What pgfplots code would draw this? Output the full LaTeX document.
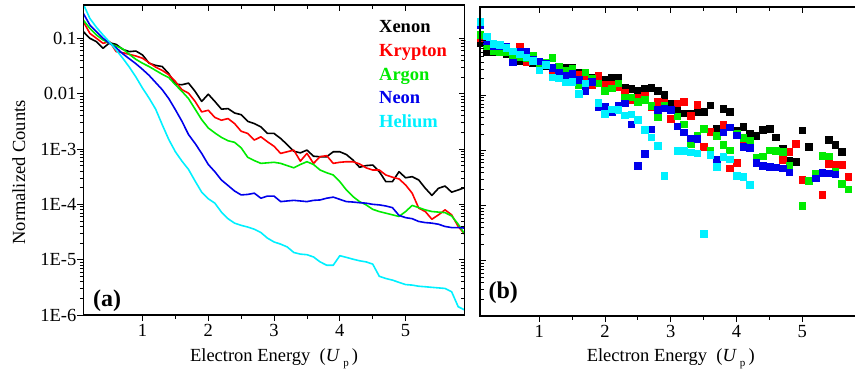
\documentclass[border=0pt]{standalone}
\usepackage{fontspec}
\setmainfont{Liberation Serif}
\usepackage{pgfplots}
\pgfplotsset{compat=1.18}
\definecolor{cXe}{RGB}{0,0,0}
\definecolor{cKr}{RGB}{255,0,0}
\definecolor{cAr}{RGB}{0,235,0}
\definecolor{cNe}{RGB}{0,0,235}
\definecolor{cHe}{RGB}{0,240,255}
\newcommand{\myfs}{\fontsize{18.5}{22}\selectfont}
\begin{document}
\begin{tikzpicture}
\useasboundingbox (0,0) rectangle (855pt,373pt);
% ---------- left panel ----------
\begin{axis}[scale only axis, width=381.5pt, height=310pt,
  at={(83.3pt,58pt)}, anchor=south west,
  xmin=0.1, xmax=5.9, ymode=log, ymin=1e-6, ymax=0.4,
  xtick={1,2,3,4,5}, minor x tick num=1,
  ytick={1e-6,1e-5,1e-4,1e-3,1e-2,1e-1},
  major tick length=6pt, minor tick length=3.5pt,
  tick style={line width=0.8pt, black},
  axis line style={line width=1.3pt},
  tick label style={font=\myfs},
  yticklabel style={xshift=2.5pt},
  tick align=outside, xtick pos=left, ytick pos=left,
  xticklabels={1,2,3,4,5},
  yticklabels={1E-6,1E-5,1E-4,1E-3,0.01\hspace{3pt},0.1\hspace{3pt}},
  xlabel={Electron Energy\ \ (\textit{U}\,\raisebox{-0.6ex}{\fontsize{11}{11}\selectfont p}\,)},
  xlabel style={at={(rel axis cs:0.5,-0.1506)}, anchor=base, inner sep=0pt, font=\myfs},
  ylabel={Normalized Counts},
  ylabel style={at={(rel axis cs:-0.1528,0.46)}, anchor=base, inner sep=0pt, font=\myfs}]
\addplot[no markers, line width=1.6pt, line join=round, cXe] coordinates {(0.1,1.32e-1)(0.2,1.00e-1)(0.3,8.71e-2)(0.4,6.61e-2)(0.5,8.32e-2)(0.6,7.76e-2)(0.7,6.31e-2)(0.8,5.75e-2)(0.9,5.89e-2)(1.0,5.01e-2)(1.1,3.55e-2)(1.2,3.24e-2)(1.3,3.09e-2)(1.4,2.29e-2)(1.5,1.48e-2)(1.6,1.45e-2)(1.7,1.55e-2)(1.8,1.10e-2)(1.9,7.24e-3)(2.0,9.77e-3)(2.1,7.24e-3)(2.2,5.25e-3)(2.3,5.37e-3)(2.4,4.47e-3)(2.5,4.17e-3)(2.6,3.16e-3)(2.7,2.88e-3)(2.8,2.51e-3)(2.9,1.91e-3)(3.0,1.91e-3)(3.1,1.55e-3)(3.2,1.20e-3)(3.3,9.12e-4)(3.4,8.51e-4)(3.5,9.55e-4)(3.6,7.41e-4)(3.7,7.24e-4)(3.8,7.24e-4)(3.9,8.91e-4)(4.0,8.91e-4)(4.1,7.94e-4)(4.2,6.31e-4)(4.3,4.68e-4)(4.4,5.01e-4)(4.5,5.13e-4)(4.6,3.89e-4)(4.7,2.57e-4)(4.8,2.57e-4)(4.9,3.89e-4)(5.0,3.02e-4)(5.1,3.16e-4)(5.2,2.75e-4)(5.3,1.95e-4)(5.4,1.45e-4)(5.5,1.95e-4)(5.6,2.14e-4)(5.7,1.66e-4)(5.8,1.82e-4)(5.9,2.00e-4)};
\addplot[no markers, line width=1.6pt, line join=round, cKr] coordinates {(0.1,2.00e-1)(0.2,1.23e-1)(0.3,1.00e-1)(0.4,8.13e-2)(0.5,8.71e-2)(0.6,5.75e-2)(0.7,5.50e-2)(0.8,5.13e-2)(0.9,4.79e-2)(1.0,4.37e-2)(1.1,3.63e-2)(1.2,3.02e-2)(1.3,2.63e-2)(1.4,2.19e-2)(1.5,1.66e-2)(1.6,1.18e-2)(1.7,1.02e-2)(1.8,7.24e-3)(1.9,4.68e-3)(2.0,5.01e-3)(2.1,3.72e-3)(2.2,3.31e-3)(2.3,3.55e-3)(2.4,2.88e-3)(2.5,2.09e-3)(2.6,1.91e-3)(2.7,1.45e-3)(2.8,1.66e-3)(2.9,1.35e-3)(3.0,1.12e-3)(3.1,8.32e-4)(3.2,8.91e-4)(3.3,9.55e-4)(3.4,6.03e-4)(3.5,8.32e-4)(3.6,5.50e-4)(3.7,7.24e-4)(3.8,7.59e-4)(3.9,5.50e-4)(4.0,5.75e-4)(4.1,5.89e-4)(4.2,5.89e-4)(4.3,5.37e-4)(4.4,4.57e-4)(4.5,4.17e-4)(4.6,4.17e-4)(4.7,3.39e-4)(4.8,3.09e-4)(4.9,2.88e-4)(5.0,2.24e-4)(5.1,1.59e-4)(5.2,8.51e-5)(5.3,7.41e-5)(5.4,5.37e-5)(5.5,6.46e-5)(5.6,7.94e-5)(5.7,6.46e-5)(5.8,3.98e-5)(5.9,2.88e-5)};
\addplot[no markers, line width=1.6pt, line join=round, cAr] coordinates {(0.1,2.14e-1)(0.2,1.51e-1)(0.3,1.15e-1)(0.4,9.33e-2)(0.5,8.13e-2)(0.6,7.24e-2)(0.7,6.46e-2)(0.8,5.13e-2)(0.9,4.17e-2)(1.0,3.55e-2)(1.1,3.09e-2)(1.2,2.63e-2)(1.3,2.24e-2)(1.4,1.95e-2)(1.5,1.45e-2)(1.6,1.10e-2)(1.7,8.13e-3)(1.8,5.25e-3)(1.9,3.39e-3)(2.0,2.40e-3)(2.1,1.95e-3)(2.2,1.62e-3)(2.3,1.41e-3)(2.4,1.32e-3)(2.5,1.05e-3)(2.6,7.08e-4)(2.7,6.17e-4)(2.8,5.50e-4)(2.9,5.62e-4)(3.0,5.75e-4)(3.1,5.50e-4)(3.2,5.01e-4)(3.3,4.57e-4)(3.4,5.25e-4)(3.5,5.89e-4)(3.6,5.25e-4)(3.7,4.17e-4)(3.8,3.72e-4)(3.9,3.39e-4)(4.0,2.57e-4)(4.1,1.82e-4)(4.2,1.38e-4)(4.3,1.12e-4)(4.4,9.77e-5)(4.5,8.13e-5)(4.6,7.41e-5)(4.7,6.92e-5)(4.8,6.46e-5)(4.9,6.03e-5)(5.0,7.41e-5)(5.1,9.55e-5)(5.2,8.71e-5)(5.3,7.94e-5)(5.4,7.41e-5)(5.5,7.24e-5)(5.6,7.08e-5)(5.7,6.17e-5)(5.8,4.37e-5)(5.9,2.88e-5)};
\addplot[no markers, line width=1.6pt, line join=round, cNe] coordinates {(0.1,2.82e-1)(0.2,1.74e-1)(0.3,1.32e-1)(0.4,1.00e-1)(0.5,8.13e-2)(0.6,6.76e-2)(0.7,5.25e-2)(0.8,4.27e-2)(0.9,3.47e-2)(1.0,2.75e-2)(1.1,2.14e-2)(1.2,1.59e-2)(1.3,1.18e-2)(1.4,8.13e-3)(1.5,5.13e-3)(1.6,3.16e-3)(1.7,1.82e-3)(1.8,1.26e-3)(1.9,8.32e-4)(2.0,5.25e-4)(2.1,3.89e-4)(2.2,2.75e-4)(2.3,2.19e-4)(2.4,1.74e-4)(2.5,1.48e-4)(2.6,1.51e-4)(2.7,1.59e-4)(2.8,1.29e-4)(2.9,1.41e-4)(3.0,1.41e-4)(3.1,1.12e-4)(3.2,1.15e-4)(3.3,1.18e-4)(3.4,1.15e-4)(3.5,1.12e-4)(3.6,1.18e-4)(3.7,1.20e-4)(3.8,1.29e-4)(3.9,1.35e-4)(4.0,1.23e-4)(4.1,1.12e-4)(4.2,1.10e-4)(4.3,1.07e-4)(4.4,1.05e-4)(4.5,1.00e-4)(4.6,9.77e-5)(4.7,9.33e-5)(4.8,8.71e-5)(4.9,6.31e-5)(5.0,5.75e-5)(5.1,5.50e-5)(5.2,4.90e-5)(5.3,4.68e-5)(5.4,4.57e-5)(5.5,4.37e-5)(5.6,3.98e-5)(5.7,3.80e-5)(5.8,3.80e-5)(5.9,3.72e-5)};
\addplot[no markers, line width=1.6pt, line join=round, cHe] coordinates {(0.1,4.17e-1)(0.2,2.29e-1)(0.3,1.58e-1)(0.4,1.15e-1)(0.5,8.51e-2)(0.6,6.17e-2)(0.7,4.37e-2)(0.8,3.02e-2)(0.9,2.00e-2)(1.0,1.26e-2)(1.1,8.32e-3)(1.2,5.25e-3)(1.3,2.75e-3)(1.4,1.48e-3)(1.5,8.91e-4)(1.6,6.03e-4)(1.7,4.27e-4)(1.8,2.63e-4)(1.9,1.66e-4)(2.0,1.26e-4)(2.1,1.05e-4)(2.2,7.24e-5)(2.3,5.50e-5)(2.4,4.57e-5)(2.5,4.17e-5)(2.6,3.89e-5)(2.7,3.55e-5)(2.8,3.09e-5)(2.9,2.45e-5)(3.0,2.09e-5)(3.1,1.91e-5)(3.2,1.70e-5)(3.3,1.35e-5)(3.4,1.26e-5)(3.5,1.23e-5)(3.6,1.12e-5)(3.7,9.12e-6)(3.8,7.94e-6)(3.9,7.94e-6)(4.0,1.18e-5)(4.1,1.10e-5)(4.2,1.02e-5)(4.3,9.55e-6)(4.4,9.12e-6)(4.5,8.32e-6)(4.6,5.01e-6)(4.7,4.57e-6)(4.8,4.27e-6)(4.9,3.89e-6)(5.0,3.55e-6)(5.1,3.47e-6)(5.2,3.31e-6)(5.3,3.24e-6)(5.4,3.16e-6)(5.5,3.09e-6)(5.6,3.02e-6)(5.7,2.63e-6)(5.8,1.41e-6)(5.9,1.23e-6)};
\node[anchor=base west, inner sep=0pt, font=\bfseries\myfs, text=cXe] at (rel axis cs:0.775,0.911) {Xenon};
\node[anchor=base west, inner sep=0pt, font=\bfseries\myfs, text=cKr] at (rel axis cs:0.775,0.834) {Krypton};
\node[anchor=base west, inner sep=0pt, font=\bfseries\myfs, text=cAr] at (rel axis cs:0.775,0.758) {Argon};
\node[anchor=base west, inner sep=0pt, font=\bfseries\myfs, text=cNe] at (rel axis cs:0.775,0.681) {Neon};
\node[anchor=base west, inner sep=0pt, font=\bfseries\myfs, text=cHe] at (rel axis cs:0.775,0.605) {Helium};
\node[anchor=base west, inner sep=0pt, font=\bfseries\fontsize{24}{28}\selectfont] at (rel axis cs:0.025,0.027) {(a)};
\end{axis}
\begin{axis}[scale only axis, width=381.5pt, height=310pt,
  at={(83.3pt,58pt)}, anchor=south west,
  xmin=0.1, xmax=5.9, ymode=log, ymin=1e-6, ymax=0.4,
  xtick={1,2,3,4,5}, minor x tick num=1,
  ytick={1e-6,1e-5,1e-4,1e-3,1e-2,1e-1},
  major tick length=6pt, minor tick length=3.5pt,
  tick style={line width=0.8pt, black},
  axis line style={line width=1.3pt},
  tick align=inside, xtick pos=right, ytick pos=right,
  xticklabels={}, yticklabels={}]
\end{axis}
% ---------- right panel ----------
\begin{axis}[scale only axis, width=381.5pt, height=309pt,
  at={(480pt,57pt)}, anchor=south west,
  xmin=0.1, xmax=5.9, ymode=log, ymin=1e-6, ymax=0.4,
  xtick={1,2,3,4,5}, minor x tick num=1,
  ytick=\empty,
  major tick length=6pt, minor tick length=3.5pt,
  tick style={line width=0.8pt, black},
  axis line style={line width=1.3pt},
  tick label style={font=\myfs},
  tick align=outside, xtick pos=left,
  xticklabels={1,2,3,4,5},
  xlabel={Electron Energy\ \ (\textit{U}\,\raisebox{-0.6ex}{\fontsize{11}{11}\selectfont p}\,)},
  xlabel style={at={(rel axis cs:0.5,-0.148)}, anchor=base, inner sep=0pt, font=\myfs}]
\addplot[only marks, mark=square*, mark size=3.3pt, cXe] coordinates {(0.1,8.91e-2)(0.2,6.17e-2)(0.3,6.03e-2)(0.4,6.03e-2)(0.5,5.62e-2)(0.6,5.01e-2)(0.7,4.27e-2)(0.8,4.37e-2)(0.9,3.80e-2)(1.0,3.98e-2)(1.1,3.39e-2)(1.2,3.24e-2)(1.3,2.82e-2)(1.4,3.16e-2)(1.5,3.24e-2)(1.6,2.63e-2)(1.7,2.14e-2)(1.8,2.14e-2)(1.9,2.00e-2)(2.0,1.95e-2)(2.1,2.14e-2)(2.2,2.14e-2)(2.3,1.41e-2)(2.4,1.32e-2)(2.5,1.23e-2)(2.6,1.32e-2)(2.7,1.38e-2)(2.8,1.23e-2)(2.9,1.02e-2)(3.0,7.08e-3)(3.1,5.62e-3)(3.2,4.79e-3)(3.3,4.79e-3)(3.4,5.01e-3)(3.5,5.01e-3)(3.6,6.61e-3)(3.7,2.51e-3)(3.8,5.75e-3)(3.9,5.01e-3)(4.0,2.34e-3)(4.1,2.69e-3)(4.2,2.04e-3)(4.3,1.86e-3)(4.4,2.40e-3)(4.5,2.51e-3)(4.6,1.74e-3)(4.7,1.10e-3)(4.8,6.61e-4)(4.9,6.31e-4)(5.0,2.34e-3)(5.1,1.17e-3)(5.2,3.89e-4)(5.4,1.58e-3)(5.5,1.26e-3)(5.6,9.55e-4)};
\addplot[only marks, mark=square*, mark size=3.3pt, cKr] coordinates {(0.1,1.12e-1)(0.2,8.91e-2)(0.3,7.94e-2)(0.4,7.59e-2)(0.5,6.61e-2)(0.6,6.31e-2)(0.7,7.59e-2)(0.8,3.98e-2)(0.9,4.47e-2)(1.0,3.80e-2)(1.1,3.55e-2)(1.2,2.69e-2)(1.3,3.16e-2)(1.4,2.82e-2)(1.5,2.88e-2)(1.6,2.40e-2)(1.7,2.09e-2)(1.8,1.55e-2)(1.9,2.29e-2)(2.0,1.58e-2)(2.1,1.58e-2)(2.2,1.41e-2)(2.3,1.15e-2)(2.4,8.32e-3)(2.5,9.12e-3)(2.6,1.00e-2)(2.7,6.31e-3)(2.8,7.59e-3)(2.9,7.41e-3)(3.0,3.80e-3)(3.1,7.24e-3)(3.2,7.76e-3)(3.3,4.27e-3)(3.4,6.76e-3)(3.5,1.17e-3)(3.6,2.19e-3)(3.8,2.95e-3)(3.9,4.79e-4)(4.0,6.03e-4)(4.1,1.35e-3)(4.7,6.76e-4)(4.8,9.55e-4)(4.9,1.32e-3)(5.0,2.95e-4)(5.3,1.58e-4)(5.4,5.75e-4)(5.5,5.62e-4)(5.6,5.50e-4)(5.7,3.39e-4)};
\addplot[only marks, mark=square*, mark size=3.3pt, cAr] coordinates {(0.1,1.26e-1)(0.2,7.94e-2)(0.3,6.31e-2)(0.4,6.17e-2)(0.5,6.03e-2)(0.6,5.13e-2)(0.7,5.01e-2)(0.8,4.79e-2)(0.9,5.25e-2)(1.0,3.55e-2)(1.1,3.98e-2)(1.2,4.79e-2)(1.3,3.39e-2)(1.4,2.88e-2)(1.5,3.02e-2)(1.6,1.55e-2)(1.7,2.63e-2)(1.8,2.00e-2)(1.9,1.66e-2)(2.0,1.23e-2)(2.1,1.35e-2)(2.2,1.66e-2)(2.3,9.33e-3)(2.4,9.33e-3)(2.5,7.76e-3)(2.6,8.32e-3)(2.7,6.46e-3)(2.8,4.07e-3)(2.9,6.46e-3)(3.0,5.62e-3)(3.1,4.17e-3)(3.2,3.02e-3)(3.3,1.32e-3)(3.4,1.86e-3)(3.5,2.51e-3)(3.6,1.00e-3)(3.7,1.86e-3)(3.8,1.26e-3)(3.9,1.02e-3)(4.0,2.00e-3)(4.1,1.70e-3)(4.2,1.51e-3)(4.3,7.59e-4)(4.4,7.94e-4)(4.5,1.02e-3)(4.6,1.00e-3)(4.7,9.55e-4)(4.8,5.37e-4)(5.0,1.00e-4)(5.1,2.82e-4)(5.2,3.89e-4)(5.3,8.13e-4)(5.4,7.94e-4)(5.5,4.17e-4)(5.6,2.51e-4)(5.7,2.00e-4)};
\addplot[only marks, mark=square*, mark size=3.3pt, cNe] coordinates {(0.1,1.91e-1)(0.2,9.55e-2)(0.3,7.76e-2)(0.4,7.94e-2)(0.5,7.76e-2)(0.6,3.98e-2)(0.7,6.31e-2)(0.8,6.31e-2)(0.9,4.47e-2)(1.0,4.17e-2)(1.1,3.80e-2)(1.2,3.16e-2)(1.3,2.63e-2)(1.4,2.34e-2)(1.5,2.45e-2)(1.6,1.91e-2)(1.7,1.23e-2)(1.8,1.78e-2)(1.9,6.17e-3)(2.0,6.17e-3)(2.1,5.01e-3)(2.2,6.46e-3)(2.3,7.24e-3)(2.4,3.02e-3)(2.5,5.37e-4)(2.6,8.71e-4)(2.7,2.45e-3)(2.8,5.50e-3)(2.9,5.89e-3)(3.0,5.50e-3)(3.1,2.75e-3)(3.2,2.14e-3)(3.3,1.66e-3)(3.4,1.62e-3)(3.6,8.32e-4)(3.7,6.76e-4)(3.8,2.14e-3)(3.9,2.63e-3)(4.0,1.91e-3)(4.1,1.17e-3)(4.2,1.12e-3)(4.3,6.03e-4)(4.4,5.37e-4)(4.5,5.13e-4)(4.6,5.01e-4)(4.7,4.79e-4)(4.8,4.07e-4)(5.2,3.16e-4)(5.3,3.98e-4)(5.4,3.89e-4)(5.5,3.72e-4)};
\addplot[only marks, mark=square*, mark size=3.3pt, cHe] coordinates {(0.1,2.19e-1)(0.2,1.15e-1)(0.3,8.71e-2)(0.4,8.32e-2)(0.5,7.24e-2)(0.6,6.31e-2)(0.7,5.62e-2)(0.8,4.90e-2)(0.9,4.27e-2)(1.0,2.88e-2)(1.1,3.63e-2)(1.2,2.14e-2)(1.3,2.04e-2)(1.4,1.74e-2)(1.5,1.78e-2)(1.6,1.07e-2)(1.7,1.66e-2)(1.9,7.41e-3)(2.0,4.68e-3)(2.1,5.62e-3)(2.2,5.50e-3)(2.3,4.37e-3)(2.4,4.57e-3)(2.5,3.63e-3)(2.6,2.40e-3)(2.7,1.74e-3)(2.8,1.23e-3)(2.9,3.47e-4)(3.1,1.00e-3)(3.2,1.00e-3)(3.3,9.33e-4)(3.4,8.91e-4)(3.5,3.09e-5)(3.6,8.32e-4)(3.7,5.13e-4)(3.8,7.76e-4)(3.9,6.92e-4)(4.0,3.47e-4)(4.1,3.39e-4)(4.2,2.40e-4)};
\node[anchor=base west, inner sep=0pt, font=\bfseries\fontsize{24}{28}\selectfont] at (rel axis cs:0.022,0.056) {(b)};
\end{axis}
\begin{axis}[scale only axis, width=381.5pt, height=309pt,
  at={(480pt,57pt)}, anchor=south west,
  xmin=0.1, xmax=5.9, ymode=log, ymin=1e-6, ymax=0.4,
  xtick={1,2,3,4,5}, minor x tick num=1,
  ytick={1e-6,1e-5,1e-4,1e-3,1e-2,1e-1},
  major tick length=6pt, minor tick length=3.5pt,
  tick style={line width=0.8pt, black},
  axis line style={line width=1.3pt},
  tick align=inside, xtick pos=right, ytick pos=left,
  xticklabels={}, yticklabels={}]
\end{axis}
\end{tikzpicture}
\end{document}
